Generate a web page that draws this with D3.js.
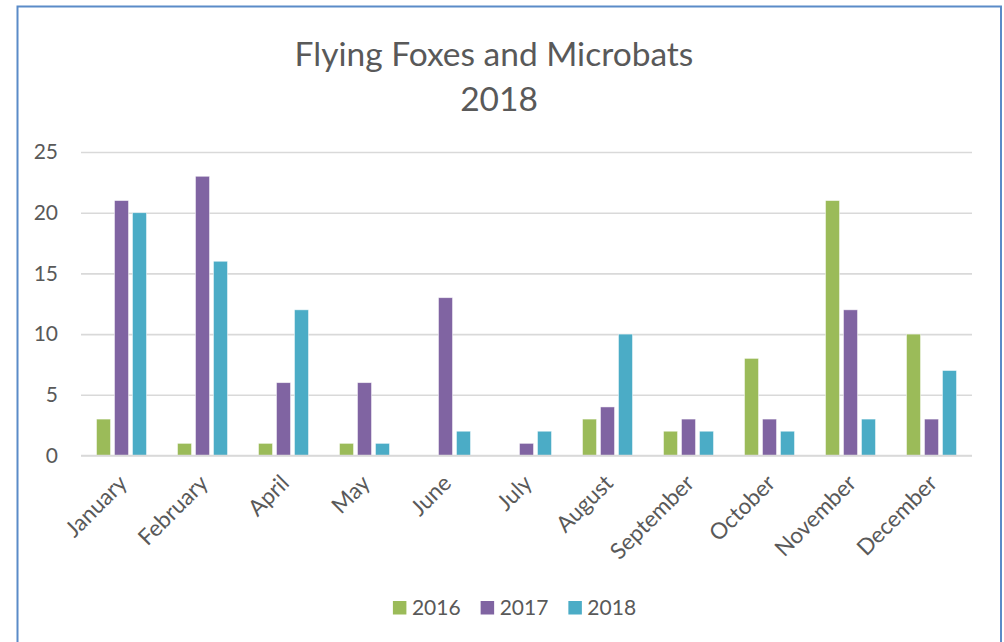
<!DOCTYPE html>
<html>
<head>
<meta charset="utf-8">
<script src="https://cdn.jsdelivr.net/npm/d3@7"></script>
<style>
  html, body { margin: 0; padding: 0; background: #fff; }
  svg { display: block; font-family: Lato, "Open Sans", sans-serif; }
</style>
</head>
<body>
<svg id="chart" width="1004" height="642"></svg>
<script>
// Monthly counts per year
const months = ["January", "February", "April", "May", "June", "July", "August", "September", "October", "November", "December"];
const seriesNames = ["2016", "2017", "2018"];
const values2016 = [3, 1, 1, 1, 0, 0, 3, 2, 8, 21, 10];
const values2017 = [21, 23, 6, 6, 13, 1, 4, 3, 3, 12, 3];
const values2018 = [20, 16, 12, 1, 2, 2, 10, 2, 2, 3, 7];
const yTicks = [0, 5, 10, 15, 20, 25];
const colors = ["#9bbb59", "#8064a2", "#4bacc6"];
const titleLines = ["Flying Foxes and Microbats", "2018"];

const seriesValues = [values2016, values2017, values2018];
const textColor = "#595959";
const digitSize = 21;
const labelSize = 22.5;
const titleSize = 33.5;

const svg = d3.select("#chart");

// chart frame
svg.append("rect")
  .attr("x", 17.5).attr("y", 6.5)
  .attr("width", 983.5).attr("height", 700)
  .attr("fill", "#fff")
  .attr("stroke", "#5b8bc8").attr("stroke-width", 2);

// title
svg.append("text")
  .attr("x", 494).attr("y", 65.5)
  .attr("text-anchor", "middle")
  .attr("fill", textColor)
  .style("font-size", titleSize + "px")
  .text(titleLines[0]);
svg.append("text")
  .attr("x", 499).attr("y", 111)
  .attr("text-anchor", "middle")
  .attr("fill", textColor)
  .style("font-size", titleSize + "px")
  .text(titleLines[1]);

// scales
const x = d3.scaleBand().domain(months).range([81, 972]).padding(0);
const xInner = d3.scaleBand().domain(seriesNames)
  .range([15.5, x.bandwidth() - 15.5])
  .paddingInner(0.22).paddingOuter(0);
const y = d3.scaleLinear().domain([0, 25]).range([455.5, 152]);

// gridlines + y labels
const yAxis = d3.axisLeft(y).tickValues(yTicks).tickSize(-(972 - 81)).tickPadding(23);
const gy = svg.append("g").attr("transform", "translate(81,0)").call(yAxis);
gy.select(".domain").remove();
gy.selectAll(".tick line").attr("stroke", "#d9d9d9").attr("stroke-width", 1.6);
gy.selectAll(".tick text")
  .attr("fill", textColor)
  .style("font-size", digitSize + "px")
  .style("font-family", "Lato, sans-serif");

// bars
const groups = svg.append("g").selectAll("g")
  .data(months)
  .join("g")
  .attr("transform", d => `translate(${x(d)},0)`);

groups.selectAll("rect")
  .data((m, i) => seriesNames.map((s, k) => ({ series: s, value: seriesValues[k][i], color: colors[k] })))
  .join("rect")
  .attr("x", d => xInner(d.series))
  .attr("width", xInner.bandwidth())
  .attr("y", d => y(d.value))
  .attr("height", d => y(0) - y(d.value))
  .attr("fill", d => d.color)
  .attr("stroke", "#fff")
  .attr("stroke-opacity", 0.6)
  .attr("stroke-width", 0.8);

// category axis line
svg.append("line")
  .attr("x1", 81).attr("x2", 972)
  .attr("y1", y(0)).attr("y2", y(0))
  .attr("stroke", "#d9d9d9").attr("stroke-width", 1.6);

// rotated month labels
svg.append("g").selectAll("text")
  .data(months)
  .join("text")
  .attr("transform", d => `translate(${x(d) + x.bandwidth() / 2 + 1.5},${479}) rotate(-45)`)
  .attr("text-anchor", "end")
  .attr("dy", "0.35em")
  .attr("fill", textColor)
  .style("font-size", labelSize + "px")
  .text(d => d);

// legend
const legend = svg.append("g");
const items = legend.selectAll("g")
  .data(seriesNames)
  .join("g");
items.append("rect")
  .attr("width", 13.5).attr("height", 13.5)
  .attr("y", 601)
  .attr("fill", (d, i) => colors[i]);
items.append("text")
  .attr("x", 19).attr("y", 615)
  .attr("fill", textColor)
  .style("font-size", digitSize + "px")
  .text(d => d);
const widths = [];
items.each(function () {
  const w = 19 + d3.select(this).select("text").node().getComputedTextLength();
  widths.push(w);
});
const gap = 20;
const total = d3.sum(widths) + gap * (widths.length - 1);
let start = 514.5 - total / 2;
items.attr("transform", (d, i) => {
  const tx = start;
  start += widths[i] + gap;
  return `translate(${tx},0)`;
});
</script>
</body>
</html>
